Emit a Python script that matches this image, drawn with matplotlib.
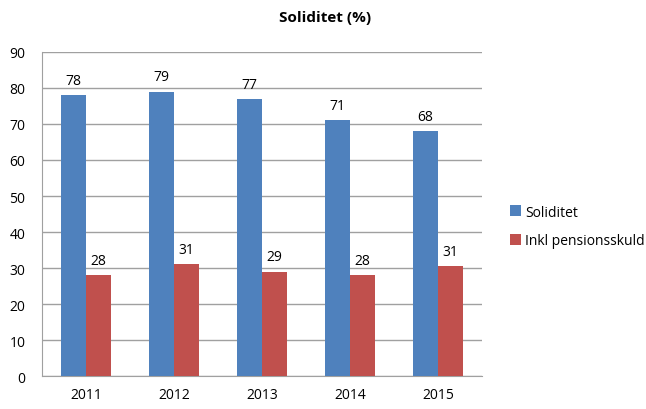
import numpy as np
import matplotlib.pyplot as plt

plt.rcParams['font.family'] = ['Open Sans', 'DejaVu Sans']

years = ['2011', '2012', '2013', '2014', '2015']
soliditet = [78, 79, 77, 71, 68]
pension = [28, 31, 29, 28, 30.6]

fig = plt.figure(figsize=(6.46, 4.10), dpi=100)
ax = fig.add_axes([0.065, 0.080, 0.681, 0.791])

x = np.arange(len(years))
w = 0.28
b1 = ax.bar(x - w / 2, soliditet, w, color='#4F81BD', label='Soliditet', zorder=3)
b2 = ax.bar(x + w / 2, pension, w, color='#C0504D', label='Inkl pensionsskuld', zorder=3)

for bars, vals in [(b1, soliditet), (b2, pension)]:
    for r, v in zip(bars, vals):
        ax.text(r.get_x() + r.get_width() / 2, v + 2, '%d' % round(v),
                ha='center', va='bottom', fontsize=10)

ax.set_xlim(-0.5, 4.5)
ax.set_ylim(0, 90)
ax.set_yticks(range(0, 91, 10))
ax.set_xticks(x)
ax.set_xticklabels(years)
ax.tick_params(length=0, labelsize=10, pad=8)
ax.tick_params(axis='y', pad=12)
ax.grid(axis='y', color='#A0A0A0', linewidth=1, zorder=0)
for s in ['top', 'right']:
    ax.spines[s].set_visible(False)
for s in ['left', 'bottom']:
    ax.spines[s].set_color('#A0A0A0')

fig.text(0.503, 0.955, 'Soliditet (%)', ha='center', va='center',
         fontsize=11, fontweight='bold')
fig.legend(handles=[b1, b2], loc='center left', bbox_to_anchor=(0.77, 0.445),
           frameon=False, fontsize=10, handlelength=0.8, handleheight=0.8,
           handletextpad=0.3, labelspacing=1.0)

fig.savefig('out.png', dpi=100)
